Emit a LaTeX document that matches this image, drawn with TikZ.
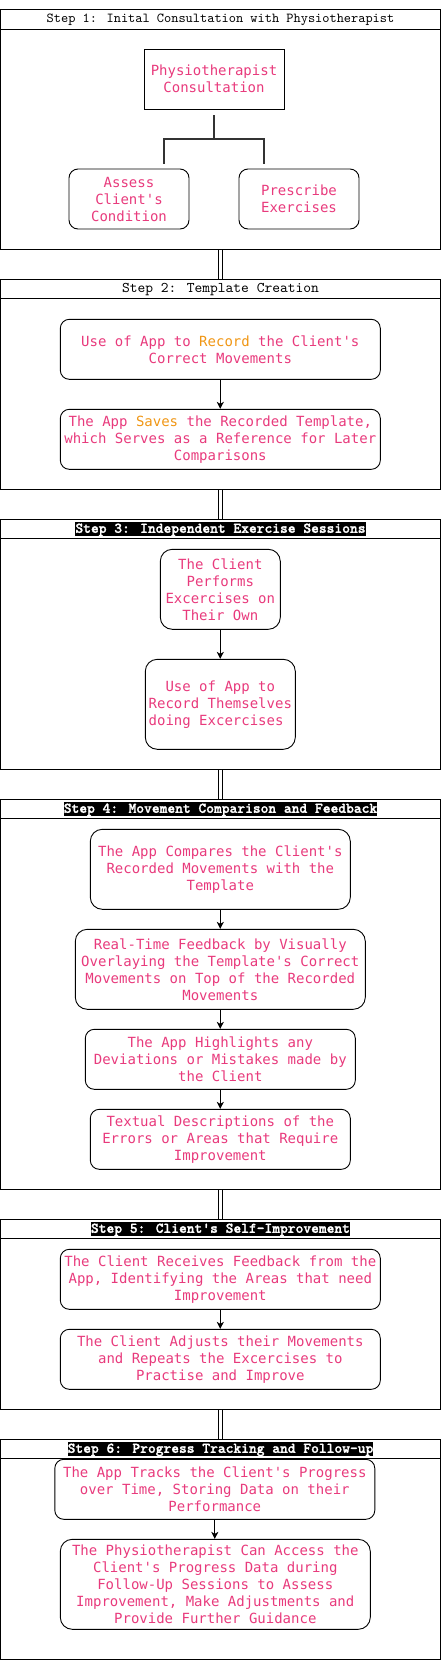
\documentclass[tikz,border=0pt]{standalone}
\usepackage{fontspec}
\setmonofont{DejaVu Sans Mono}
\newfontfamily\titlefont{lmmono10-regular.otf}[BoldFont=lmmonolt10-bold.otf, BoldFeatures={FakeBold=1.5}]
\usetikzlibrary{arrows.meta}
\definecolor{pinktxt}{RGB}{232,58,124}
\definecolor{orangetxt}{RGB}{240,150,20}
\definecolor{treegray}{RGB}{51,51,51}
\newcommand{\hl}[1]{\textcolor{orangetxt}{#1}}
\tikzset{
  lane/.style={draw=black, line width=1pt, minimum width=440pt, inner sep=0pt},
  lanetitle/.style={font=\titlefont\fontsize{13.7}{13}\selectfont, text=black, inner sep=0pt},
  darktitle/.style={font=\titlefont\bfseries\fontsize{14.8}{13}\selectfont, text=white, fill=black, inner xsep=0pt, inner ysep=1pt, text height=9.5pt, text depth=2.5pt},
  plaintitle/.style={font=\titlefont\fontsize{14.8}{13}\selectfont, text=black, inner sep=0pt},
  stepbox/.style={draw=black, line width=0.9pt, rounded corners=9pt, align=center, inner sep=0pt,
     text=pinktxt, font=\ttfamily\fontsize{14}{17}\selectfont},
  sharpbox/.style={stepbox, rounded corners=0pt},
  flow/.style={draw=black, line width=0.9pt, -{Stealth[length=7pt,width=7pt,inset=2pt]}},
  link/.style={draw=black, line width=0.7pt, double distance=3pt},
  sep/.style={draw=black, line width=1pt}
}
\begin{document}
\begin{tikzpicture}[x=1pt,y=-1pt]
\useasboundingbox (0,0) rectangle (441,1660);
% ---------- Step 1
\node[lane, minimum height=239.8pt] (s1) at (220.5,129.4) {};
\draw[sep] ([yshift=-20pt]s1.north west) -- ([yshift=-20pt]s1.north east);
\node[lanetitle] (t1) at (220.5,19.5) {Step 1: Inital Consultation with Physiotherapist};
\node[sharpbox, minimum width=140pt, minimum height=60pt] (phys) at (214,79) {Physiotherapist\\Consultation};
\node[stepbox, minimum width=120pt, minimum height=60pt] (assess) at (129,199) {Assess\\Client's\\Condition};
\node[stepbox, minimum width=120pt, minimum height=60pt] (presc) at (299,199) {Prescribe\\Exercises};
\coordinate (tr0) at ([yshift=-6pt]phys.south);
\coordinate (trl) at ([yshift=5pt]assess.north -| 164,0);
\coordinate (trr) at ([yshift=5pt]presc.north -| 264,0);
\draw[treegray, line width=2pt] (tr0) -- (tr0 |- 0,139);
\draw[treegray, line width=2pt] (trl) -- (trl |- 0,139) -- (trr |- 0,139) -- (trr);
% ---------- Step 2
\node[lane, minimum height=210pt] (s2) at (220.5,384.3) {};
\draw[sep] ([yshift=-20pt]s2.north west) -- ([yshift=-20pt]s2.north east);
\node[plaintitle] (t2) at (220.5,289.3) {Step 2: Template Creation};
\node[stepbox, minimum width=320pt, minimum height=60pt] (s2a) at (220.3,349.3) {Use of App to \hl{Record} the Client's\\Correct Movements};
\node[stepbox, minimum width=320pt, minimum height=60pt] (s2b) at (220.3,439.3) {The App \hl{Saves} the Recorded Template,\\which Serves as a Reference for Later\\Comparisons};
\draw[flow] (s2a) -- (s2b);
% ---------- Step 3
\node[lane, minimum height=250pt] (s3) at (220.5,644.3) {};
\draw[sep] ([yshift=-20pt]s3.north west) -- ([yshift=-20pt]s3.north east);
\node[darktitle] (t3) at (220.5,529.3) {Step 3: Independent Exercise Sessions};
\node[stepbox, rounded corners=12pt, minimum width=120pt, minimum height=80pt] (s3a) at (220.3,589.3) {The Client\\Performs\\Excercises on\\Their Own};
\node[stepbox, rounded corners=12pt, minimum width=150pt, minimum height=90pt] (s3b) at (220.3,704.3) {Use of App to\\Record Themselves\\doing Excercises\phantom{x}};
\draw[flow] (s3a) -- (s3b);
% ---------- Step 4
\node[lane, minimum height=390pt] (s4) at (220.5,994.3) {};
\draw[sep] ([yshift=-20pt]s4.north west) -- ([yshift=-20pt]s4.north east);
\node[darktitle] (t4) at (220.5,809.3) {Step 4: Movement Comparison and Feedback};
\node[stepbox, rounded corners=12pt, minimum width=260pt, minimum height=80pt] (s4a) at (220.3,869.3) {The App Compares the Client's\\Recorded Movements with the\\Template};
\node[stepbox, rounded corners=12pt, minimum width=290pt, minimum height=80pt] (s4b) at (220.3,969.3) {Real-Time Feedback by Visually\\Overlaying the Template's Correct\\Movements on Top of the Recorded\\Movements};
\node[stepbox, minimum width=270pt, minimum height=60pt] (s4c) at (220.3,1059.3) {The App Highlights any\\Deviations or Mistakes made by\\the Client};
\node[stepbox, minimum width=260pt, minimum height=60pt] (s4d) at (220.3,1139.3) {Textual Descriptions of the\\Errors or Areas that Require\\Improvement};
\draw[flow] (s4a) -- (s4b);
\draw[flow] (s4b) -- (s4c);
\draw[flow] (s4c) -- (s4d);
% ---------- Step 5
\node[lane, minimum height=190pt] (s5) at (220.5,1314.3) {};
\draw[sep] ([yshift=-20pt]s5.north west) -- ([yshift=-20pt]s5.north east);
\node[darktitle] (t5) at (220.5,1229.3) {Step 5: Client's Self-Improvement};
\node[stepbox, minimum width=320pt, minimum height=60pt] (s5a) at (220.3,1279.3) {The Client Receives Feedback from the\\App, Identifying the Areas that need\\Improvement};
\node[stepbox, minimum width=320pt, minimum height=60pt] (s5b) at (220.3,1359.3) {The Client Adjusts their Movements\\and Repeats the Excercises to\\Practise and Improve};
\draw[flow] (s5a) -- (s5b);
% ---------- Step 6
\node[lane, minimum height=220pt] (s6) at (220.5,1549.3) {};
\draw[sep] ([yshift=-20pt]s6.north west) -- ([yshift=-20pt]s6.north east);
\node[darktitle] (t6) at (220.5,1449.3) {Step 6: Progress Tracking and Follow-up};
\node[stepbox, minimum width=320pt, minimum height=60pt] (s6a) at (214.8,1489.3) {The App Tracks the Client's Progress\\over Time, Storing Data on their\\Performance};
\node[stepbox, rounded corners=12pt, minimum width=310pt, minimum height=90pt] (s6b) at (215.3,1584.3) {The Physiotherapist Can Access the\\Client's Progress Data during\\Follow-Up Sessions to Assess\\Improvement, Make Adjustments and\\Provide Further Guidance};
\draw[flow] (s6a.south) -- (s6a.south |- s6b.north);
% ---------- links between steps
\draw[link] ([xshift=-0.2pt]s1.south) -- ([xshift=-0.2pt]s2.north);
\draw[link] ([xshift=-0.2pt]s2.south) -- ([xshift=-0.2pt]s3.north);
\draw[link] ([xshift=-0.2pt]s3.south) -- ([xshift=-0.2pt]s4.north);
\draw[link] ([xshift=-0.2pt]s4.south) -- ([xshift=-0.2pt]s5.north);
\draw[link] ([xshift=-0.2pt]s5.south) -- ([xshift=-0.2pt]s6.north);
\end{tikzpicture}
\end{document}
